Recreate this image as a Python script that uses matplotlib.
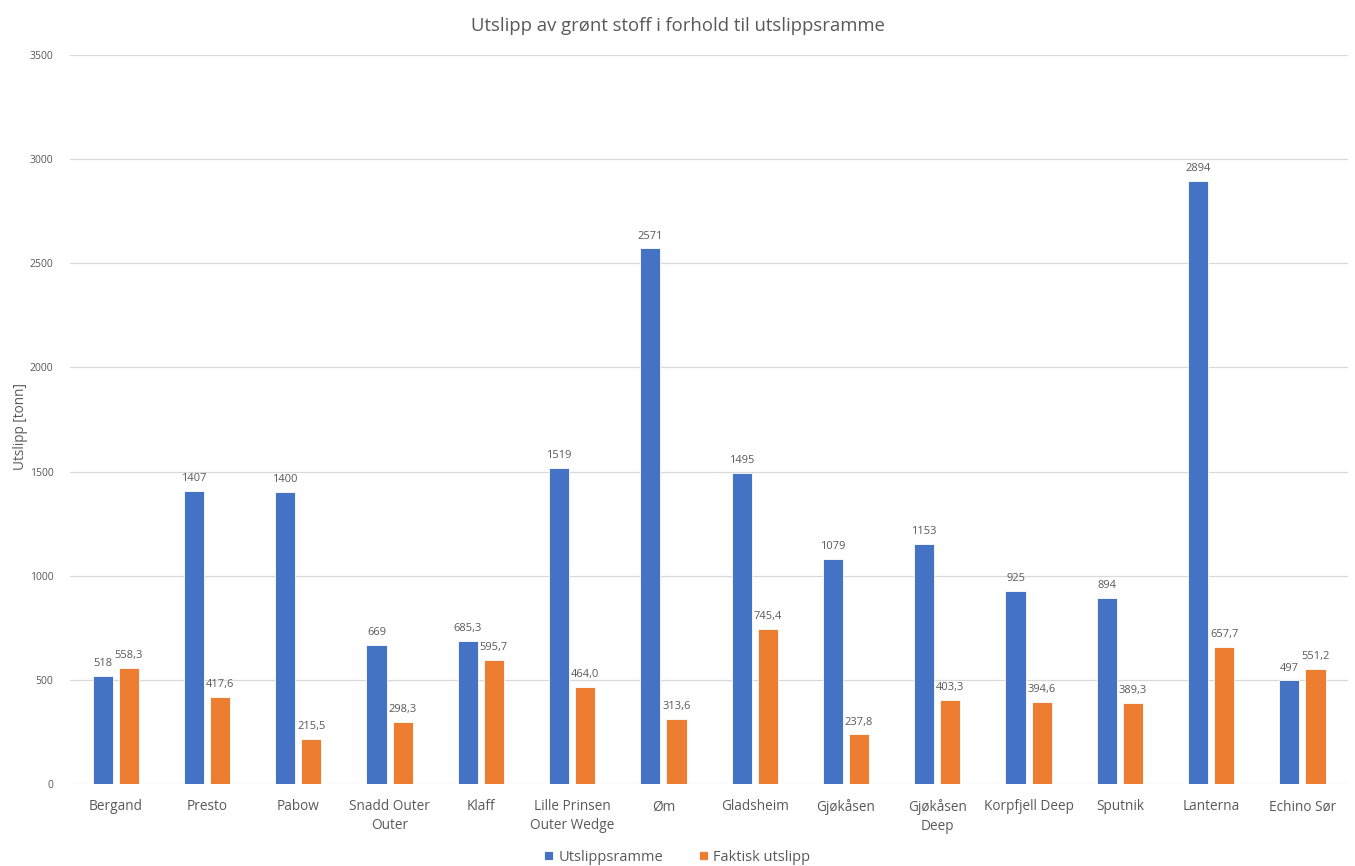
import matplotlib
matplotlib.use("Agg")
import matplotlib.pyplot as plt
import numpy as np

categories = ["Bergand", "Presto", "Pabow", "Snadd Outer\nOuter", "Klaff",
              "Lille Prinsen\nOuter Wedge", "Øm", "Gladsheim", "Gjøkåsen",
              "Gjøkåsen\nDeep", "Korpfjell Deep", "Sputnik", "Lanterna", "Echino Sør"]
utslippsramme = [518, 1407, 1400, 669, 685.3, 1519, 2571, 1495, 1079, 1153, 925, 894, 2894, 497]
faktisk_utslipp = [558.3, 417.6, 215.5, 298.3, 595.7, 464.0, 313.6, 745.4, 237.8, 403.3,
                   394.6, 389.3, 657.7, 551.2]
y_ticks = [0, 500, 1000, 1500, 2000, 2500, 3000, 3500]

BLUE = "#4472C4"
ORANGE = "#ED7D31"
TEXT = "#595959"
GRID = "#D9D9D9"

plt.rcParams["font.family"] = ["Open Sans", "DejaVu Sans"]

fig = plt.figure(figsize=(13.55, 8.66), dpi=100)
ax = fig.add_axes([0.0517, 0.0947, 0.9432, 0.8418])

x = np.arange(len(categories))
w = 0.22
gap = 0.066
off = w / 2 + gap / 2


def fmt_frame(v):
    if float(v).is_integer():
        return f"{int(v)}"
    return f"{v:.1f}".replace(".", ",")


def fmt_actual(v):
    return f"{v:.1f}".replace(".", ",")


b1 = ax.bar(x - off, utslippsramme, w, color=BLUE, edgecolor="white", linewidth=0.6,
            label="Utslippsramme", zorder=3)
b2 = ax.bar(x + off, faktisk_utslipp, w, color=ORANGE, edgecolor="white", linewidth=0.6,
            label="Faktisk utslipp", zorder=3)

for rect, v in zip(b1, utslippsramme):
    ax.annotate(fmt_frame(v), (rect.get_x() + rect.get_width() / 2, v),
                xytext=(0, 5), textcoords="offset points", ha="center", va="bottom",
                fontsize=8, color=TEXT)
for rect, v in zip(b2, faktisk_utslipp):
    ax.annotate(fmt_actual(v), (rect.get_x() + rect.get_width() / 2, v),
                xytext=(0, 5), textcoords="offset points", ha="center", va="bottom",
                fontsize=8, color=TEXT)

ax.set_xlim(-0.5, len(categories) - 0.5)
ax.set_ylim(0, 3500)
ax.set_yticks(y_ticks)
ax.set_yticklabels([str(t) for t in y_ticks], fontsize=7.5, color=TEXT)
ax.set_xticks(x)
ax.set_xticklabels(categories, fontsize=9.8, color=TEXT, linespacing=1.35)
ax.tick_params(axis="both", length=0)
ax.tick_params(axis="x", pad=11)
ax.tick_params(axis="y", pad=12)
ax.yaxis.grid(True, color=GRID, linewidth=0.9, zorder=0)
for s in ax.spines.values():
    s.set_visible(False)

ax.set_ylabel("Utslipp [tonn]", fontsize=9.8, color=TEXT)
ax.yaxis.set_label_coords(-0.033, 0.49)

fig.suptitle("Utslipp av grønt stoff i forhold til utslippsramme", fontsize=13.3,
             color=TEXT, y=0.980)

fig.legend(handles=[b1, b2], loc="lower center", bbox_to_anchor=(0.5, -0.014), ncol=2,
           frameon=False, fontsize=10.5, handlelength=0.6, handleheight=0.6,
           columnspacing=2.4, handletextpad=0.4, labelcolor=TEXT)

fig.savefig("out.png", dpi=100, facecolor="white")
